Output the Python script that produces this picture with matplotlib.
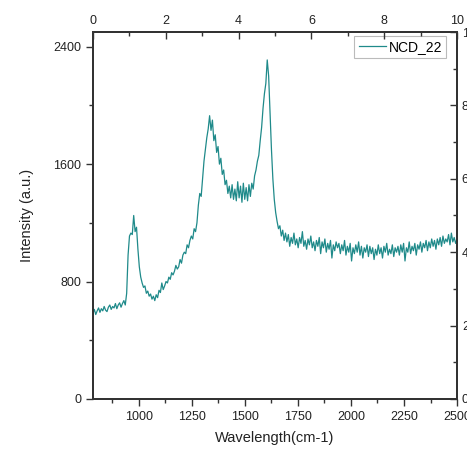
import numpy as np
import matplotlib.pyplot as plt
from matplotlib.ticker import MultipleLocator

plt.rcParams['font.family'] = ['Liberation Sans', 'DejaVu Sans']

wn_start, wn_stop = 783, 2500
intensity = [
    585, 610, 575, 600, 620, 590, 615, 600, 630, 605, 595, 625,
    640, 610, 630, 620, 650, 615, 640, 655, 625, 650, 670, 640,
    720, 980, 1110, 1130, 1120, 1250, 1140, 1170, 1020, 900,
    830, 790, 760, 770, 720, 735, 700, 715, 680, 700,
    670, 710, 690, 740, 725, 790, 745, 770, 800, 790,
    830, 815, 860, 845, 870, 910, 885, 900, 950, 925,
    980, 1000, 990, 1050, 1030, 1080, 1110, 1090, 1160, 1140,
    1200, 1320, 1400, 1380, 1500, 1620, 1700, 1780, 1840, 1930,
    1830, 1900, 1760, 1800, 1680, 1720, 1600, 1640, 1530, 1560,
    1460, 1490, 1400, 1450, 1370, 1460, 1360, 1430, 1350, 1480,
    1370, 1450, 1340, 1470, 1360, 1440, 1350, 1460, 1380, 1470,
    1430, 1520, 1560, 1620, 1660, 1760, 1850, 1980, 2080, 2150,
    2310, 2200, 1950, 1700, 1500, 1360, 1270, 1210, 1160, 1180,
    1110, 1150, 1080, 1130,
    1070, 1120, 1040, 1100, 1060, 1130, 1050, 1090, 1030, 1100,
    1060, 1140, 1040, 1080, 1020, 1090, 1050, 1110, 1030, 1070,
    1010, 1080, 1040, 1100, 990, 1070, 1030, 1090, 1000, 1060,
    1020, 1080, 960, 1050, 1010, 1070, 1030, 1060, 990, 1050,
    1010, 1080, 980, 1040, 1000, 1060, 940, 1030, 990, 1050,
    1000, 1070, 980, 1040, 960, 1030, 1000, 1050, 970, 1040,
    990, 1030, 950, 1020, 980, 1050, 990, 1030, 960, 1040,
    1000, 1060, 980, 1020, 990, 1050, 970, 1030, 1000, 1040,
    980, 1050, 1000, 1060, 940, 1030, 1000, 1070, 990, 1040,
    1010, 1060, 980, 1050, 1020, 1070, 1000, 1060, 1030, 1080,
    1010, 1070, 1030, 1090, 1040, 1080, 1020, 1090, 1050, 1100,
    1040, 1110, 1060, 1090, 1070, 1120, 1050, 1130, 1070, 1100,
    1060, 1090,
]
wavenumber = np.linspace(wn_start, wn_stop, len(intensity))

top_ticks = [0, 2, 4, 6, 8, 10]
right_ticks = [0, 2, 4, 6, 8, 10]

fig = plt.figure(figsize=(4.67, 4.58), dpi=100)
ax = fig.add_axes([0.199, 0.129, 0.7796, 0.801])

ax.plot(wavenumber, intensity, color="#1f8a8a", linewidth=0.9, label="NCD_22")

ax.set_xlim(wn_start, wn_stop)
ax.set_ylim(0, 2500)
ax.xaxis.set_minor_locator(MultipleLocator(125))
ax.set_xticks([1000, 1250, 1500, 1750, 2000, 2250, 2500])
ax.yaxis.set_major_locator(MultipleLocator(800))
ax.yaxis.set_minor_locator(MultipleLocator(400))
ax.tick_params(which="major", direction="out", length=5, width=1.0,
               colors="#333333", labelsize=9, labelcolor="#222222")
ax.tick_params(which="minor", direction="out", length=3, width=1.0,
               colors="#333333")

for sp in ax.spines.values():
    sp.set_color("#333333")
    sp.set_linewidth(1.2)

ax.set_xlabel("Wavelength(cm-1)", fontsize=10.5, color="#222222", labelpad=6)
ax.set_ylabel("Intensity (a.u.)", fontsize=10.5, color="#222222", labelpad=14)

# secondary axes drawn by the original software (0..10)
ax_top = ax.twiny()
ax_top.set_xlim(0, 10)
ax_top.set_xticks(top_ticks)
ax_top.xaxis.set_minor_locator(MultipleLocator(1))
ax_top.tick_params(which="major", direction="in", length=5, width=1.0,
                   colors="#333333", labelsize=9, labelcolor="#222222")
ax_top.tick_params(which="minor", direction="in", length=3, width=1.0,
                   colors="#333333")

ax_right = ax.twinx()
ax_right.set_ylim(0, 10)
ax_right.set_yticks(right_ticks)
ax_right.yaxis.set_minor_locator(MultipleLocator(1))
ax_right.tick_params(which="major", direction="in", length=5, width=1.0,
                     colors="#333333", labelsize=9, labelcolor="#222222")
ax_right.tick_params(which="minor", direction="in", length=3, width=1.0,
                     colors="#333333")
for a in (ax_top, ax_right):
    for sp in a.spines.values():
        sp.set_color("#333333")
        sp.set_linewidth(1.2)

leg = ax.legend(loc="upper right", bbox_to_anchor=(0.970, 0.989),
                fontsize=10, frameon=True, fancybox=False,
                handlelength=2.0, handletextpad=0.15, borderpad=0.3,
                borderaxespad=0)
leg.get_frame().set_edgecolor("#aaaaaa")
leg.get_frame().set_linewidth(0.8)

fig.savefig("out.png", dpi=100)
